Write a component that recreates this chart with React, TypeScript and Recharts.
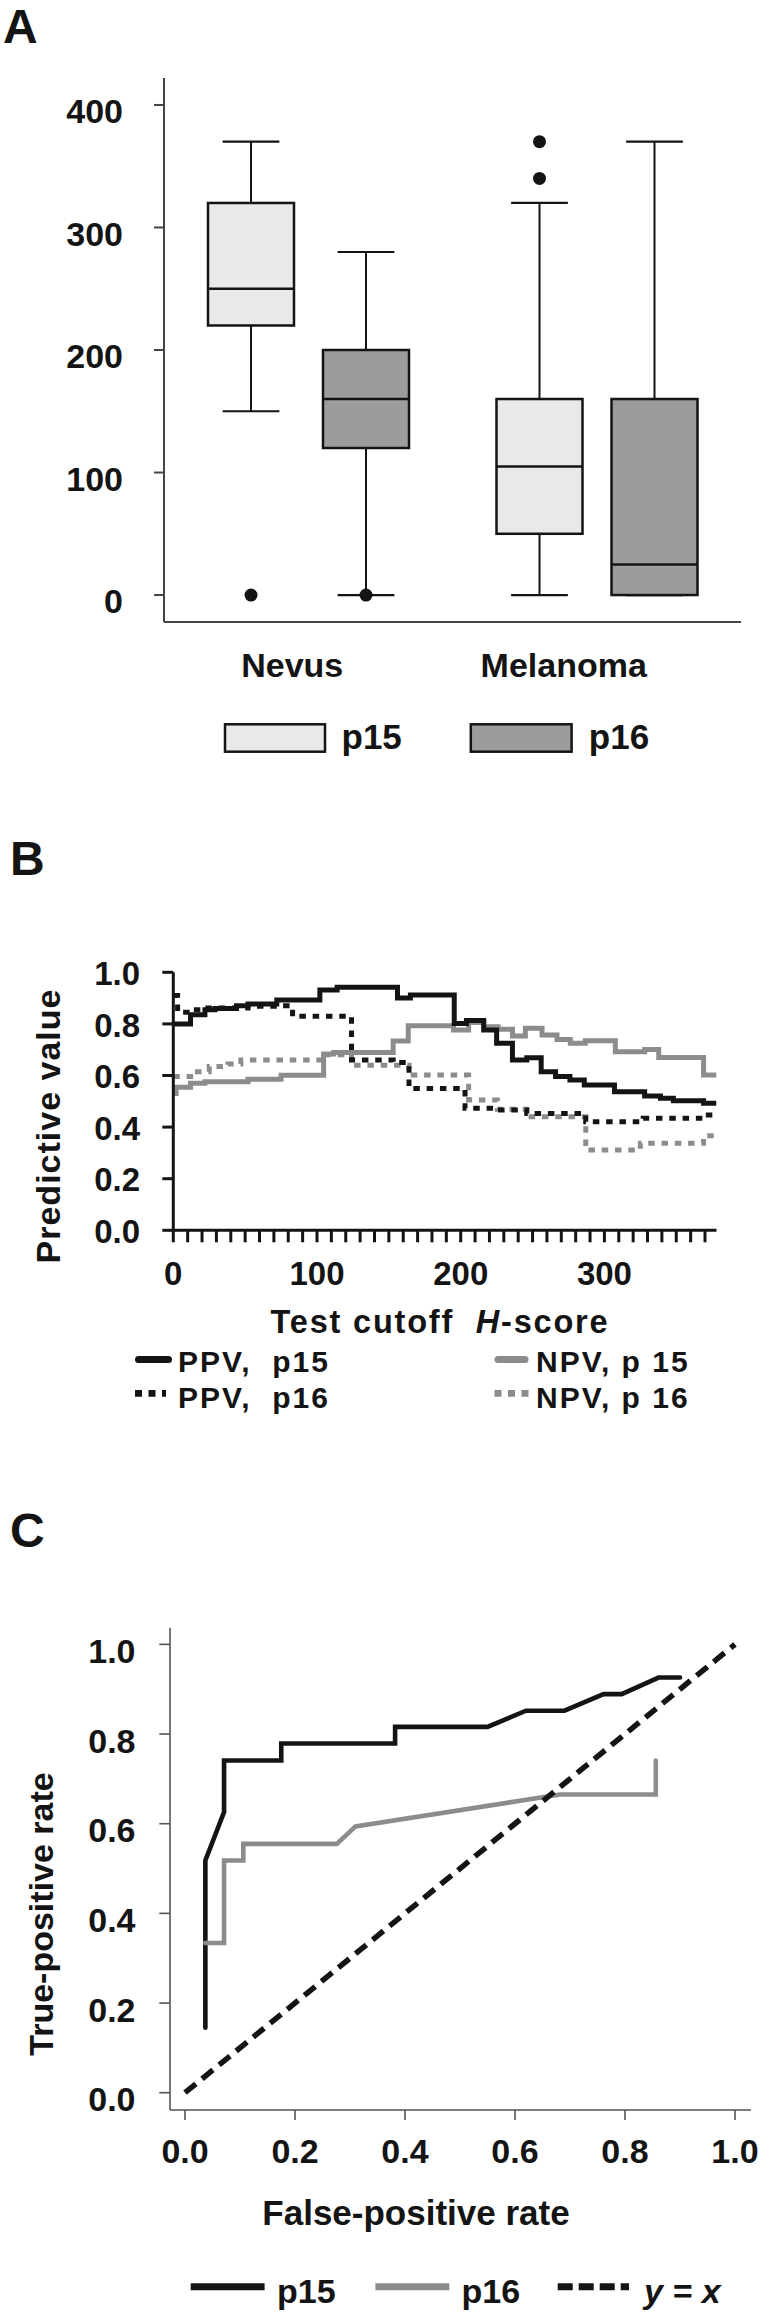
import React from "react";
import { ComposedChart, Bar, Line, XAxis, YAxis } from "recharts";

const FONT = "'Liberation Sans', Arial, Helvetica, sans-serif";
const INK = "#141414";
const GREY = "#8c8c8c";
const LIGHT_FILL = "#e9e9e9";
const DARK_FILL = "#9c9c9c";

// ---- Panel A: H-score box plots ----
const groups = ["Nevus", "Melanoma"];
const p15Min = [150, 0];
const p15Q1 = [220, 50];
const p15Median = [250, 105];
const p15Q3 = [320, 160];
const p15Max = [370, 320];
const p15Outliers = [[0], [340, 370]];
const p16Min = [0, 0];
const p16Q1 = [120, 0];
const p16Median = [160, 25];
const p16Q3 = [200, 160];
const p16Max = [280, 370];
const p16Outliers = [[0], []];
const hScoreTicks = [0, 100, 200, 300, 400];

// ---- Panel B: predictive value vs cutoff ----
const ppvP15Cutoff = [0, 12, 22, 29, 44, 52, 72, 102, 114, 156, 165, 195.5, 204, 216, 225, 236, 246, 256, 266, 276, 286, 307, 328, 339, 348, 369, 378];
const ppvP15Value = [0.8, 0.835, 0.855, 0.86, 0.87, 0.877, 0.893, 0.931, 0.942, 0.9, 0.912, 0.802, 0.813, 0.776, 0.725, 0.66, 0.669, 0.615, 0.596, 0.583, 0.563, 0.537, 0.521, 0.512, 0.502, 0.492, 0.492];
const npvP15Cutoff = [0, 2, 12, 22, 52, 75, 104.6, 111.6, 153, 163.5, 195, 205.5, 216, 226, 236, 245, 256.6, 267, 276.3, 286.7, 307.6, 328, 337.8, 369, 378];
const npvP15Value = [0.53, 0.554, 0.57, 0.576, 0.585, 0.601, 0.683, 0.689, 0.734, 0.793, 0.776, 0.805, 0.789, 0.779, 0.753, 0.783, 0.757, 0.74, 0.725, 0.735, 0.692, 0.701, 0.67, 0.602, 0.602];
const ppvP16Cutoff = [0, 3, 12, 22, 52, 73, 83, 124, 153, 164, 203, 225, 246, 287, 327, 369, 378];
const ppvP16Value = [0.91, 0.845, 0.855, 0.862, 0.868, 0.87, 0.83, 0.66, 0.65, 0.55, 0.473, 0.466, 0.453, 0.421, 0.434, 0.447, 0.447];
const npvP16Cutoff = [0, 12, 25, 38, 47, 104, 124, 164, 205.5, 225.5, 245.5, 287, 325, 369, 378];
const npvP16Value = [0.596, 0.615, 0.635, 0.645, 0.66, 0.68, 0.64, 0.602, 0.505, 0.469, 0.44, 0.311, 0.337, 0.366, 0.366];
const cutoffTicks = Array.from({ length: 38 }, (_, i) => i * 10);
const pvTicks = [0, 0.2, 0.4, 0.6, 0.8, 1.0];

// ---- Panel C: ROC ----
const rocP15Fpr = [0.037, 0.037, 0.071, 0.071, 0.175, 0.175, 0.382, 0.382, 0.55, 0.62, 0.69, 0.761, 0.794, 0.861, 0.9];
const rocP15Tpr = [0.145, 0.518, 0.626, 0.741, 0.741, 0.779, 0.779, 0.816, 0.816, 0.852, 0.852, 0.889, 0.889, 0.926, 0.926];
const rocP16Fpr = [0.037, 0.071, 0.071, 0.106, 0.106, 0.276, 0.31, 0.682, 0.856, 0.856];
const rocP16Tpr = [0.334, 0.334, 0.518, 0.518, 0.555, 0.555, 0.594, 0.665, 0.665, 0.741];
const chanceX = [0, 1];
const chanceY = [0, 1];
const rateTicks = [0, 0.2, 0.4, 0.6, 0.8, 1.0];

const boxRows = groups.map((g, i) => ({
  group: g,
  p15: { min: p15Min[i], q1: p15Q1[i], median: p15Median[i], q3: p15Q3[i], max: p15Max[i], outliers: p15Outliers[i] },
  p16: { min: p16Min[i], q1: p16Q1[i], median: p16Median[i], q3: p16Q3[i], max: p16Max[i], outliers: p16Outliers[i] },
}));

const toPoints = (xs: number[], ys: number[]) => xs.map((x, i) => ({ x, y: ys[i] }));

const LABEL_SHIFT = [-16, -33];

const boxShape = (key: "p15" | "p16", fill: string) => (props: any) => {
  const { x, y, width, height, payload } = props;
  const s = payload[key];
  const py = (v: number) => y + (height * (s.max - v)) / (s.max - s.min);
  const cx = x + width / 2;
  const cap = width * 0.33;
  return (
    <g>
      <line x1={cx} x2={cx} y1={py(s.max)} y2={py(s.q3)} stroke={INK} strokeWidth={2} />
      <line x1={cx} x2={cx} y1={py(s.q1)} y2={py(s.min)} stroke={INK} strokeWidth={2} />
      <line x1={cx - cap} x2={cx + cap} y1={py(s.max)} y2={py(s.max)} stroke={INK} strokeWidth={2.2} />
      <line x1={cx - cap} x2={cx + cap} y1={py(s.min)} y2={py(s.min)} stroke={INK} strokeWidth={2.2} />
      <rect x={x} y={py(s.q3)} width={width} height={py(s.q1) - py(s.q3)} fill={fill} stroke={INK} strokeWidth={2.5} />
      <line x1={x} x2={x + width} y1={py(s.median)} y2={py(s.median)} stroke={INK} strokeWidth={2.5} />
      {s.outliers.map((o: number, i: number) => (
        <circle key={i} cx={cx} cy={py(o)} r={6.5} fill={INK} />
      ))}
    </g>
  );
};

const textStyle = { fontFamily: FONT, fontWeight: 700, fill: INK } as const;

const YTick = (dy: number, size: number, fmt: (v: number) => string) => (props: any) => {
  const { x, y, payload } = props;
  return (
    <text x={x} y={y} dy={dy} textAnchor="end" fontSize={size} {...textStyle}>
      {fmt(payload.value)}
    </text>
  );
};

const GroupTick = (props: any) => {
  const { x, y, payload, index } = props;
  return (
    <text x={x + (LABEL_SHIFT[index] || 0)} y={y} dy={54.7} textAnchor="middle" fontSize={34} {...textStyle}>
      {payload.value}
    </text>
  );
};

const CutoffTick = (props: any) => {
  const { x, y, payload } = props;
  if (payload.value % 100 !== 0) return <g />;
  return (
    <text x={x} y={y} dy={42.7} textAnchor="middle" fontSize={33} {...textStyle}>
      {payload.value}
    </text>
  );
};

const RateTick = (props: any) => {
  const { x, y, payload } = props;
  return (
    <text x={x} y={y} dy={43.3} textAnchor="middle" fontSize={34} {...textStyle}>
      {payload.value.toFixed(1)}
    </text>
  );
};

const BoxPanel = () => (
  <div style={{ position: "absolute", left: 0, top: 0 }}>
    <ComposedChart width={766} height={700} data={boxRows} barSize={86} barGap={29} margin={{ top: 78, right: 25, bottom: 18, left: 104 }}>
      <XAxis dataKey="group" height={60} axisLine={{ stroke: "#444", strokeWidth: 2 }} tickLine={false} tickSize={0} tickMargin={0} tick={GroupTick} interval={0} />
      <YAxis width={60} type="number" domain={[-22, 422]} ticks={hScoreTicks} allowDataOverflow axisLine={{ stroke: "#444", strokeWidth: 2 }} tickLine={{ stroke: "#444", strokeWidth: 2 }} tickSize={10} tickMargin={31} tick={YTick(18.3, 34, (v) => String(v))} interval={0} />
      <Bar dataKey={(d: any) => [d.p15.min, d.p15.max]} shape={boxShape("p15", LIGHT_FILL)} isAnimationActive={false} />
      <Bar dataKey={(d: any) => [d.p16.min, d.p16.max]} shape={boxShape("p16", DARK_FILL)} isAnimationActive={false} />
    </ComposedChart>
  </div>
);

const PredictivePanel = () => (
  <div style={{ position: "absolute", left: 0, top: 900 }}>
    <ComposedChart width={766} height={500} margin={{ top: 72.3, right: 49.5, bottom: 109.7, left: 113.3 }}>
      <XAxis dataKey="x" type="number" domain={[0, 378]} ticks={cutoffTicks} allowDataOverflow height={60} axisLine={{ stroke: INK, strokeWidth: 3 }} tickLine={{ stroke: INK, strokeWidth: 3 }} tickSize={12} tickMargin={0} tick={CutoffTick} interval={0} />
      <YAxis dataKey="y" type="number" domain={[0, 1]} ticks={pvTicks} allowDataOverflow width={60} axisLine={{ stroke: INK, strokeWidth: 3 }} tickLine={{ stroke: INK, strokeWidth: 3 }} tickSize={11} tickMargin={22.3} tick={YTick(12.7, 33, (v) => v.toFixed(1))} interval={0} />
      <Line data={toPoints(npvP16Cutoff, npvP16Value)} dataKey="y" type="stepAfter" stroke={GREY} strokeWidth={5} strokeDasharray="6.5 6.8" dot={false} isAnimationActive={false} />
      <Line data={toPoints(ppvP16Cutoff, ppvP16Value)} dataKey="y" type="stepAfter" stroke={INK} strokeWidth={5} strokeDasharray="6.5 6.8" dot={false} isAnimationActive={false} />
      <Line data={toPoints(npvP15Cutoff, npvP15Value)} dataKey="y" type="stepAfter" stroke={GREY} strokeWidth={5} dot={false} isAnimationActive={false} />
      <Line data={toPoints(ppvP15Cutoff, ppvP15Value)} dataKey="y" type="stepAfter" stroke={INK} strokeWidth={5} dot={false} isAnimationActive={false} />
    </ComposedChart>
  </div>
);

const RocPanel = () => (
  <div style={{ position: "absolute", left: 0, top: 1580 }}>
    <ComposedChart width={766} height={660} margin={{ top: 47.7, right: 15, bottom: 70, left: 110 }}>
      <XAxis dataKey="x" type="number" domain={[-0.0273, 1.0291]} ticks={rateTicks} allowDataOverflow height={60} axisLine={{ stroke: "#555", strokeWidth: 1.6 }} tickLine={{ stroke: "#555", strokeWidth: 1.6 }} tickSize={10} tickMargin={0} tick={RateTick} interval={0} />
      <YAxis dataKey="y" type="number" domain={[-0.0386, 1.0372]} ticks={rateTicks} allowDataOverflow width={60} axisLine={{ stroke: "#555", strokeWidth: 1.6 }} tickLine={{ stroke: "#555", strokeWidth: 1.6 }} tickSize={10.7} tickMargin={23.8} tick={YTick(18.7, 34, (v) => v.toFixed(1))} interval={0} />
      <Line data={toPoints(rocP15Fpr, rocP15Tpr)} dataKey="y" type="linear" stroke={INK} strokeWidth={4.6} strokeLinecap="round" dot={false} isAnimationActive={false} />
      <Line data={toPoints(rocP16Fpr, rocP16Tpr)} dataKey="y" type="linear" stroke={GREY} strokeWidth={4.6} strokeLinecap="round" dot={false} isAnimationActive={false} />
      <Line data={toPoints(chanceX, chanceY)} dataKey="y" type="linear" stroke={INK} strokeWidth={5.5} strokeDasharray="14 8" dot={false} isAnimationActive={false} />
    </ComposedChart>
  </div>
);

const Overlay = () => (
  <svg width={766} height={2319} style={{ position: "absolute", left: 0, top: 0, pointerEvents: "none" }}>
    <g {...textStyle} fontSize={48}>
      <text x={3} y={43}>A</text>
      <text x={10} y={875}>B</text>
      <text x={10} y={1547}>C</text>
    </g>

    {/* legend A */}
    <rect x={225} y={724.3} width={100} height={27.4} fill={LIGHT_FILL} stroke={INK} strokeWidth={2.5} />
    <text x={341.5} y={749.3} fontSize={35} {...textStyle}>p15</text>
    <rect x={470.8} y={724.3} width={100.8} height={27.4} fill={DARK_FILL} stroke={INK} strokeWidth={2.5} />
    <text x={588.8} y={749.3} fontSize={35} {...textStyle}>p16</text>

    {/* panel B titles */}
    <text transform="translate(60,1126) rotate(-90)" textAnchor="middle" fontSize={34} letterSpacing={1} {...textStyle}>Predictive value</text>
    <text x={440} y={1333} textAnchor="middle" fontSize={32.5} letterSpacing={1.8} style={{ whiteSpace: "pre" }} {...textStyle}>
      {"Test cutoff  "}<tspan fontStyle="italic">H</tspan>{"-score"}
    </text>

    {/* legend B */}
    <line x1={138.5} x2={168.5} y1={1359.5} y2={1359.5} stroke={INK} strokeWidth={7} strokeLinecap="round" />
    <text x={178} y={1371.7} fontSize={30} letterSpacing={2} style={{ whiteSpace: "pre" }} {...textStyle}>{"PPV,  p15"}</text>
    <line x1={135} x2={166} y1={1393.3} y2={1393.3} stroke={INK} strokeWidth={6.7} strokeDasharray="7 6.5" />
    <text x={178} y={1408} fontSize={30} letterSpacing={2} style={{ whiteSpace: "pre" }} {...textStyle}>{"PPV,  p16"}</text>
    <line x1={498} x2={525} y1={1359.5} y2={1359.5} stroke={GREY} strokeWidth={7} strokeLinecap="round" />
    <text x={536} y={1371.7} fontSize={30} letterSpacing={2} {...textStyle}>NPV, p 15</text>
    <line x1={494.5} x2={528.6} y1={1393.3} y2={1393.3} stroke={GREY} strokeWidth={6.7} strokeDasharray="7 6.5" />
    <text x={536} y={1408} fontSize={30} letterSpacing={2} {...textStyle}>NPV, p 16</text>

    {/* panel C titles */}
    <text transform="translate(52.8,1914) rotate(-90)" textAnchor="middle" fontSize={34} {...textStyle}>True-positive rate</text>
    <text x={416} y={2225} textAnchor="middle" fontSize={35} {...textStyle}>False-positive rate</text>

    {/* legend C */}
    <line x1={190.7} x2={264.6} y1={2286.7} y2={2286.7} stroke={INK} strokeWidth={7} />
    <text x={277} y={2303} fontSize={34} {...textStyle}>p15</text>
    <line x1={375.4} x2={449.3} y1={2286.7} y2={2286.7} stroke={GREY} strokeWidth={7} />
    <text x={461.6} y={2303} fontSize={34} {...textStyle}>p16</text>
    <line x1={557.7} x2={629} y1={2286.7} y2={2286.7} stroke={INK} strokeWidth={7} strokeDasharray="15 6" />
    <text x={644} y={2303} fontSize={34} fontStyle="italic" style={{ whiteSpace: "pre" }} {...textStyle}>{"y = x"}</text>
  </svg>
);

export default function App() {
  return (
    <div style={{ position: "absolute", left: 0, top: 0, width: 766, height: 2319, background: "#fff" }}>
      <BoxPanel />
      <PredictivePanel />
      <RocPanel />
      <Overlay />
    </div>
  );
}
